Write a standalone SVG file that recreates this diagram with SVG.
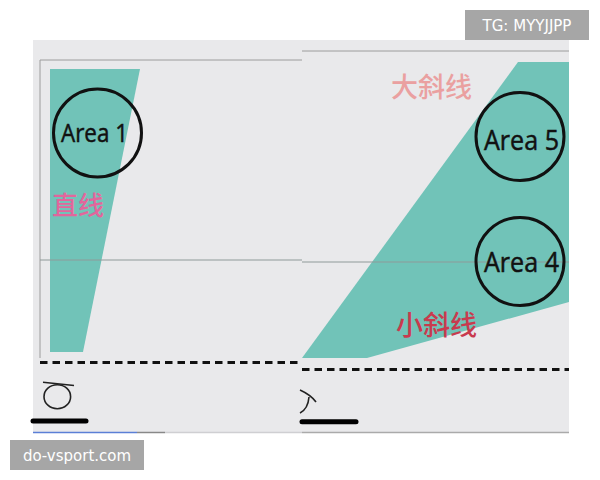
<svg xmlns="http://www.w3.org/2000/svg" width="600" height="480" viewBox="0 0 600 480">
<style>
.frame{stroke:#9c9c9c;stroke-width:1;fill:none}
.mid{stroke:#8f9a99;stroke-width:1;fill:none}
.teal{fill:#71c3b8}
.ring{fill:none;stroke:#111;stroke-width:3}
.lbl{font-family:"Open Sans","DejaVu Sans",sans-serif;fill:#111;stroke:#111;stroke-width:0.5;text-anchor:middle}
.cn{font-family:"Noto Sans CJK SC",sans-serif;font-weight:500}
.dash{stroke:#111;stroke-width:3;stroke-dasharray:7.5 5;fill:none}
.mark{stroke:#222;stroke-width:1.6;fill:none}
.bar{stroke:#000;stroke-width:5;stroke-linecap:round}
.wm{fill:#a6a6a6}
.wmt{font-family:"DejaVu Sans",sans-serif;font-size:15px;fill:#fff}
</style>
<rect width="600" height="480" fill="#fff"/>
<rect x="33" y="40" width="536" height="393" fill="#e9e9eb"/>
<g id="area-left">
<polygon class="teal" points="50,69 140,69 83,352 50,352"/>
</g>
<g id="area-right">
<polygon class="teal" points="518,62 569,62 569,302 367,358 302,358"/>
</g>
<g id="frames">
<path class="frame" d="M40,358 V60 H302"/>
<path class="frame" d="M302,51 H569"/>
<path class="mid" d="M40,260 H302"/>
<path class="mid" d="M302,262 H569"/>
</g>
<g id="area1">
<circle class="ring" cx="97.5" cy="133" r="44"/>
<text class="lbl" x="94.5" y="141.5" font-size="25" textLength="67" lengthAdjust="spacingAndGlyphs">Area 1</text>
</g>
<g id="area5">
<circle class="ring" cx="520" cy="136.5" r="44"/>
<text class="lbl" x="521.5" y="149.5" font-size="28" textLength="75" lengthAdjust="spacingAndGlyphs">Area 5</text>
</g>
<g id="area4">
<circle class="ring" cx="520" cy="261.5" r="44"/>
<text class="lbl" x="521.5" y="271.5" font-size="27" textLength="75" lengthAdjust="spacingAndGlyphs">Area 4</text>
</g>
<g id="labels">
<text class="cn" x="52" y="215" font-size="26" fill="#e2669c">直线</text>
<text class="cn" x="391" y="97" font-size="27" fill="#eaa0a0">大斜线</text>
<text class="cn" x="396" y="335" font-size="27" fill="#c93a4e">小斜线</text>
</g>
<g id="connectors">
<line class="dash" x1="40" y1="362.5" x2="302" y2="362.5"/>
<line class="dash" x1="302" y1="369.5" x2="569" y2="369.5"/>
</g>
<g id="marks">
<ellipse class="mark" cx="57.3" cy="396.7" rx="13.3" ry="12"/>
<line class="mark" x1="43" y1="382.3" x2="74" y2="385.5"/>
<path class="mark" d="M300,390 Q311,395 316,402 M309,397 Q308,409 300,413"/>
<line class="bar" x1="33" y1="421" x2="86" y2="421"/>
<line class="bar" x1="302" y1="421.7" x2="356" y2="421.7"/>
<line x1="165" y1="432.5" x2="302" y2="432.5" stroke="#cfcfd2" stroke-width="1.5"/>
<line x1="33" y1="432.5" x2="137" y2="432.5" stroke="#5b7fd6" stroke-width="1.5"/>
<line x1="137" y1="432.5" x2="165" y2="432.5" stroke="#888" stroke-width="1.5"/>
<line x1="302" y1="432.5" x2="569" y2="432.5" stroke="#aaa" stroke-width="1.5"/>
</g>
<g id="watermarks">
<rect class="wm" x="465" y="10" width="124" height="30"/>
<text class="wmt" x="527" y="31" text-anchor="middle">TG: MYYJJPP</text>
<rect class="wm" x="10" y="440" width="134" height="30"/>
<text class="wmt" x="77" y="461" text-anchor="middle">do-vsport.com</text>
</g>
</svg>
